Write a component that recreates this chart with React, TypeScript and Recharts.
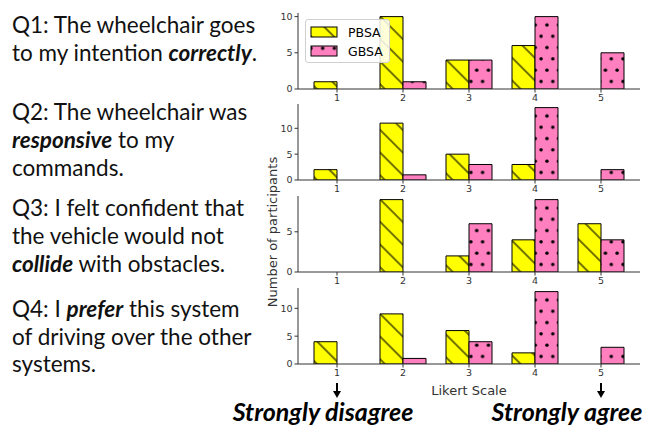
import React from 'react';
import { BarChart, Bar, XAxis, YAxis, Legend } from 'recharts';

// Likert levels and participant counts per question
const levels = ['1', '2', '3', '4', '5'];
const q1PBSA = [1, 10, 4, 6, 0];
const q1GBSA = [0, 1, 4, 10, 5];
const q2PBSA = [2, 11, 5, 3, 0];
const q2GBSA = [0, 1, 3, 14, 2];
const q3PBSA = [0, 9, 2, 4, 6];
const q3GBSA = [0, 0, 6, 9, 4];
const q4PBSA = [4, 9, 6, 2, 0];
const q4GBSA = [0, 1, 4, 13, 3];

const yMax = [10.5, 14.7, 9.45, 13.65];
const yTicks = [[0, 5, 10], [0, 5, 10], [0, 5], [0, 5, 10]];

const TEXT_FONT = 'Lato, sans-serif';
const MPL_FONT = '"DejaVu Sans", sans-serif';
const YELLOW = '#ffff00';
const PINK = '#ff7fbf';
const AXIS = '#333';

const buildRows = (pbsa: number[], gbsa: number[]) =>
    levels.map((level, i) => ({ level, PBSA: pbsa[i], GBSA: gbsa[i] }));

const panels = [
    buildRows(q1PBSA, q1GBSA),
    buildRows(q2PBSA, q2GBSA),
    buildRows(q3PBSA, q3GBSA),
    buildRows(q4PBSA, q4GBSA),
];

// plot-area tops in the page
const panelTops = [13, 104, 196, 288];
const PLOT_H = 76;

const Patterns: React.FC<{ id: string; dx?: number }> = ({ id, dx = 0 }) => (
    <defs>
        <pattern id={`hatch-${id}`} patternUnits="userSpaceOnUse" width={16} height={16} patternTransform="rotate(-45)">
            <rect x={0} y={0} width={16} height={16} fill={YELLOW} />
            <line x1={8} y1={0} x2={8} y2={16} stroke="#000" strokeWidth={1.1} />
        </pattern>
        <pattern id={`dots-${id}`} patternUnits="userSpaceOnUse" width={11.7} height={22.6} x={dx}>
            <rect x={0} y={0} width={11.7} height={22.6} fill={PINK} />
            <circle cx={2} cy={5.6} r={1.75} fill="#000" />
            <circle cx={7.85} cy={16.9} r={1.75} fill="#000" />
        </pattern>
    </defs>
);

const LegendBox = () => (
    <div style={{
        width: 85, height: 44, border: '1px solid #d0d0d0', borderRadius: 3,
        background: 'rgba(255,255,255,0.85)', boxSizing: 'border-box',
    }}>
        <svg width={84} height={43} style={{ display: 'block' }}>
            <Patterns id="legend" dx={3} />
            <rect x={5} y={7} width={26} height={10} fill="url(#hatch-legend)" stroke="#000" />
            <text x={42} y={16.5} fontSize={12.5} fontFamily={MPL_FONT} fill="#000">PBSA</text>
            <rect x={5} y={26} width={26} height={10} fill="url(#dots-legend)" stroke="#000" />
            <text x={42} y={35.5} fontSize={12.5} fontFamily={MPL_FONT} fill="#000">GBSA</text>
        </svg>
    </div>
);

const Panel: React.FC<{ idx: number }> = ({ idx }) => {
    const last = idx === 3;
    const axisH = last ? 40 : 20;
    const id = `p${idx}`;
    return (
        <div style={{ position: 'absolute', left: 270, top: panelTops[idx] - 5 }}>
            <BarChart
                width={376}
                height={5 + PLOT_H + axisH}
                data={panels[idx]}
                margin={{ top: 5, right: 6, left: 0, bottom: 0 }}
                barGap={0}
                barSize={23}
            >
                <Patterns id={id} />
                <XAxis
                    dataKey="level"
                    padding={{ left: 6, right: 6 }}
                    interval={0}
                    height={axisH}
                    tickSize={3.5}
                    stroke={AXIS}
                    tick={{ fontSize: 9.5, fill: AXIS, fontFamily: MPL_FONT }}
                    label={last ? { value: 'Likert Scale', position: 'insideBottom', offset: 9, fontSize: 13, fill: AXIS, fontFamily: MPL_FONT } : undefined}
                />
                <XAxis xAxisId="top" orientation="top" dataKey="level" height={0} tick={false} tickLine={false} stroke={AXIS} />
                <YAxis
                    domain={[0, yMax[idx]]}
                    ticks={yTicks[idx]}
                    allowDataOverflow
                    width={28}
                    tickSize={3.5}
                    stroke={AXIS}
                    tick={{ fontSize: 9.5, fill: AXIS, fontFamily: MPL_FONT }}
                />
                <YAxis yAxisId="right" orientation="right" width={0} tick={false} tickLine={false} stroke={AXIS} />
                {idx === 0 && (
                    <Legend
                        layout="vertical"
                        verticalAlign="middle"
                        align="center"
                        content={() => <LegendBox />}
                        wrapperStyle={{ position: 'absolute', left: 35, top: 11, width: 85 }}
                    />
                )}
                <Bar dataKey="PBSA" fill={`url(#hatch-${id})`} stroke="#000" strokeWidth={1} isAnimationActive={false} />
                <Bar dataKey="GBSA" fill={`url(#dots-${id})`} stroke="#000" strokeWidth={1} isAnimationActive={false} />
            </BarChart>
        </div>
    );
};

const bi = { fontWeight: 700, fontStyle: 'italic' } as const;

const questionLines: { y: number; parts: [string, boolean][] }[] = [
    { y: 33, parts: [['Q1: The wheelchair goes', false]] },
    { y: 61, parts: [['to my intention ', false], ['correctly', true], ['.', false]] },
    { y: 120, parts: [['Q2: The wheelchair was', false]] },
    { y: 148, parts: [['responsive', true], [' to my', false]] },
    { y: 176, parts: [['commands.', false]] },
    { y: 216, parts: [['Q3: I felt confident that', false]] },
    { y: 244, parts: [['the vehicle would not', false]] },
    { y: 272, parts: [['collide', true], [' with obstacles.', false]] },
    { y: 317, parts: [['Q4: I ', false], ['prefer', true], [' this system', false]] },
    { y: 345, parts: [['of driving over the other', false]] },
    { y: 372, parts: [['systems.', false]] },
];

export default function App() {
    return (
        <div style={{ position: 'absolute', left: 0, top: 0, width: 646, height: 426, background: '#fff', overflow: 'hidden' }}>
            <svg width={646} height={426} style={{ position: 'absolute', left: 0, top: 0 }}>
                {questionLines.map((line, i) => (
                    <text key={i} x={12} y={line.y} fontSize={22.5} fontFamily={TEXT_FONT} fill="#111">
                        {line.parts.map(([t, b], j) => (
                            <tspan key={j} style={b ? bi : undefined}>{t}</tspan>
                        ))}
                    </text>
                ))}
                <text
                    x={0}
                    y={0}
                    transform="translate(272 232) rotate(-90)"
                    textAnchor="middle"
                    dominantBaseline="central"
                    fontSize={13}
                    fontFamily={MPL_FONT}
                    fill={AXIS}
                >
                    Number of participants
                </text>
                {[337, 601].map((x) => (
                    <g key={x}>
                        <line x1={x} y1={383} x2={x} y2={392} stroke="#000" strokeWidth={2} />
                        <polygon points={`${x - 4},391 ${x + 4},391 ${x},398`} fill="#000" />
                    </g>
                ))}
                <text x={323} y={421} textAnchor="middle" fontSize={25} fontFamily={TEXT_FONT} fill="#000" style={bi}>
                    Strongly disagree
                </text>
                <text x={567} y={421} textAnchor="middle" fontSize={25} fontFamily={TEXT_FONT} fill="#000" style={bi}>
                    Strongly agree
                </text>
            </svg>
            {[0, 1, 2, 3].map((i) => (
                <Panel key={i} idx={i} />
            ))}
        </div>
    );
}
